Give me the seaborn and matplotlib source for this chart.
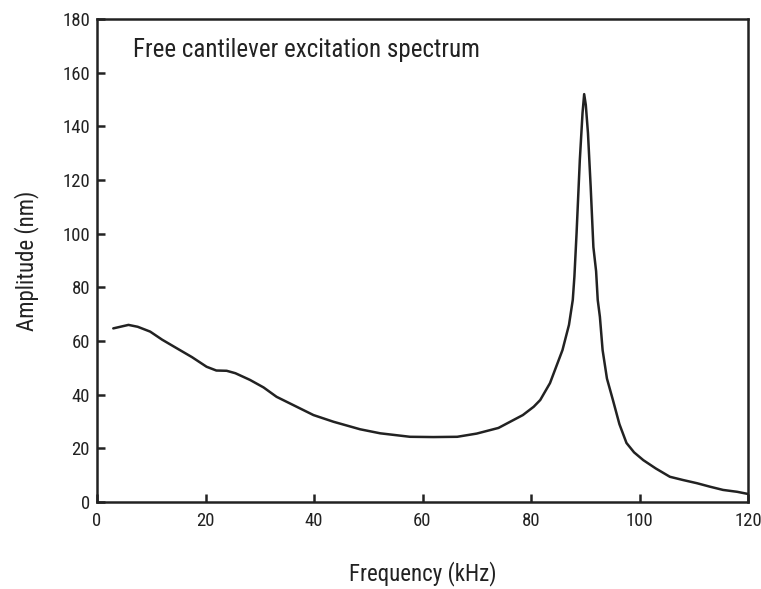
import matplotlib
matplotlib.use("Agg")
import matplotlib.pyplot as plt
import matplotlib.font_manager as fm
import seaborn as sns
import pandas as pd

# digitised free cantilever excitation spectrum
freq_khz = [3.0, 5.8, 7.5, 9.8, 12.0, 14.7, 17.5, 20.2, 22.0, 23.9, 25.5, 28.2,
            30.7, 33.1, 35.5, 37.4, 39.9, 43.6, 48.5, 52.2, 57.7, 62.0, 66.4,
            70.0, 74.0, 78.5, 80.5, 81.7, 83.5, 85.8, 87.0, 87.7, 88.0, 88.4,
            89.0, 89.5, 89.8, 90.1, 90.5, 91.0, 91.5, 92.0, 92.3, 92.7, 93.2,
            94.0, 95.1, 96.3, 97.6, 99.0, 100.7, 103.0, 105.6, 108.0, 110.6,
            113.0, 115.4, 118.0, 120.0]
amplitude_nm = [64.7, 66.0, 65.3, 63.5, 60.5, 57.3, 54.0, 50.4, 49.0, 48.9, 48.0,
                45.5, 42.7, 39.2, 36.8, 34.9, 32.4, 29.9, 27.1, 25.6, 24.3, 24.2,
                24.3, 25.5, 27.6, 32.4, 35.5, 38.0, 44.3, 56.6, 66.0, 75.3, 84.0,
                100.2, 127.5, 145.0, 152.0, 148.0, 137.5, 117.5, 95.0, 86.0, 75.3,
                69.0, 56.6, 46.0, 38.0, 29.0, 22.0, 18.5, 15.6, 12.5, 9.4, 8.2,
                7.0, 5.7, 4.5, 3.8, 3.0]

x_ticks = [0, 20, 40, 60, 80, 100, 120]
y_ticks = [0, 20, 40, 60, 80, 100, 120, 140, 160, 180]

df = pd.DataFrame({"Frequency": freq_khz, "Amplitude": amplitude_nm})

sns.set_theme(style="white")
installed = {f.name for f in fm.fontManager.ttflist}
family = [f for f in ["Roboto Condensed", "Liberation Sans Narrow", "Roboto", "DejaVu Sans"]
          if f in installed]
plt.rcParams["font.family"] = family

ink = "#222222"
fig = plt.figure(figsize=(7.61, 5.89), dpi=100)
ax = fig.add_axes([97 / 761, 1 - 502 / 589, (748 - 97) / 761, (502 - 19) / 589])

sns.lineplot(data=df, x="Frequency", y="Amplitude", ax=ax, color=ink,
             linewidth=1.8, estimator=None, sort=False)

ax.set_xlim(0, 120)
ax.set_ylim(0, 180)
ax.set_xticks(x_ticks)
ax.set_yticks(y_ticks)
ax.tick_params(axis="both", direction="in", length=6, width=1.8, color=ink,
               labelsize=13.5, labelcolor=ink)
ax.tick_params(axis="x", pad=7.5)
ax.tick_params(axis="y", pad=5)
ax.tick_params(top=False, right=False, bottom=True, left=True)
for sp in ax.spines.values():
    sp.set_visible(True)
    sp.set_color(ink)
    sp.set_linewidth(1.8)

ax.set_xlabel("Frequency (kHz)", fontsize=16.5, color=ink, labelpad=22)
ax.set_ylabel("Amplitude (nm)", fontsize=16.5, color=ink, labelpad=17)
ax.text(6.6, 168.5, "Free cantilever excitation spectrum", fontsize=18,
        color=ink, va="center", ha="left")

fig.savefig("out.png", dpi=100)
